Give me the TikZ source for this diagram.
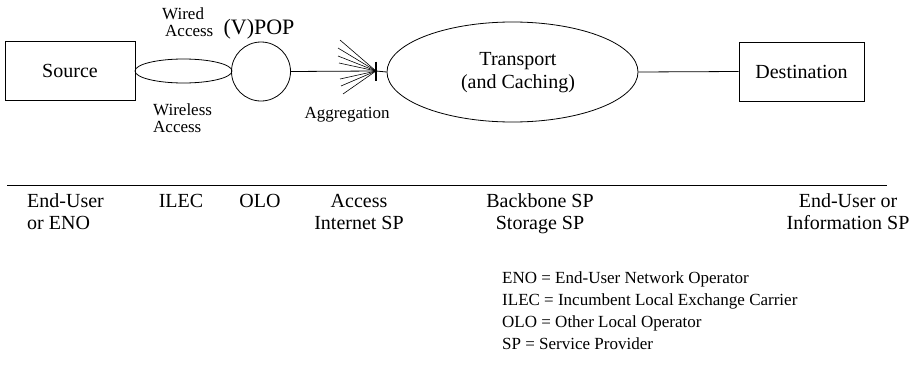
\documentclass[tikz,border=0pt]{standalone}
\usepackage{fontspec}
\setmainfont{Liberation Serif}
\usetikzlibrary{shapes.geometric}
\tikzset{
  thinline/.style={line width=0.8pt},
  stage/.style={draw, line width=0.8pt, rectangle, inner sep=0pt, font=\fontsize{20}{23}\selectfont},
  lbl/.style={inner sep=0pt, anchor=base, font=\fontsize{17}{20}\selectfont},
  role/.style={inner sep=0pt, anchor=base, font=\fontsize{20}{23}\selectfont},
  abbrev/.style={inner sep=0pt, anchor=base west, font=\fontsize{17}{20}\selectfont},
}
\begin{document}
\begin{tikzpicture}[x=1pt, y=-1pt]
\useasboundingbox (0,0) rectangle (917,364);

% end points and the access network
\node[stage, minimum width=130, minimum height=59] (src) at (70,70.5) {Source};
\node[draw, thinline, ellipse, minimum width=97, minimum height=24, inner sep=0pt] (link) at (183.5,71) {};
\node[draw, thinline, circle, minimum size=59, inner sep=0pt] (pop) at (261,71.5) {};
\node[draw, thinline, ellipse, minimum width=251, minimum height=100, inner sep=0pt] (transport) at (512.5,72) {};
\node[stage, minimum width=125, minimum height=59] (dst) at (801.5,71.5) {Destination};
\node[font=\fontsize{20}{23}\selectfont, align=center, inner sep=0pt] (transportlabel) at (518,73) {Transport\\(and Caching)};

% aggregation point with its fan of incoming lines
\coordinate (agg) at (376,71);
\coordinate (aggtop) at (376,61.5);
\coordinate (aggbot) at (376,80.5);
\draw[thinline] (pop.east) -- (agg);
\draw[thinline] (agg) -- (transport.west);
\draw[thinline] (transport.east) -- (dst.west);
\foreach \fx/\fy [count=\i] in {340/40, 338/48, 338/56, 339/63, 340/79, 341/86, 343/94} {
  \coordinate (fan\i) at (\fx,\fy);
  \draw[line width=0.6pt] (fan\i) -- (agg);
}
\draw[line width=2.6pt] (aggtop) -- (aggbot);

% labels of the access network
\node[lbl, anchor=base west] (wired) at (162,19) {Wired};
\node[lbl, anchor=base west] (wiredacc) at (165,36) {Access};
\node[inner sep=0pt, anchor=base, font=\fontsize{22}{25}\selectfont] (vpop) at (259,34) {(V)POP};
\node[lbl, anchor=base west] (wireless) at (153,115) {Wireless};
\node[lbl, anchor=base west] (wirelessacc) at (153,132) {Access};
\node[lbl] (aggregation) at (347,118) {Aggregation};

% rule and the actors below it
\coordinate (ruleL) at (7,185);
\coordinate (ruleR) at (887,185);
\draw[thinline] (ruleL) -- (ruleR);
\node[role, anchor=base west] (r1a) at (27,207) {End-User};
\node[role, anchor=base west] (r1b) at (27,229) {or ENO};
\node[role] (r2) at (181,207) {ILEC};
\node[role] (r3) at (260,207) {OLO};
\node[role] (r4a) at (359,207) {Access};
\node[role] (r4b) at (359,229) {Internet SP};
\node[role] (r5a) at (540,207) {Backbone SP};
\node[role] (r5b) at (540,229) {Storage SP};
\node[role] (r6a) at (848,207) {End-User or};
\node[role] (r6b) at (848,229) {Information SP};

% abbreviations
\node[abbrev] (k1) at (502,283) {ENO = End-User Network Operator};
\node[abbrev] (k2) at (502,305) {ILEC = Incumbent Local Exchange Carrier};
\node[abbrev] (k3) at (502,327) {OLO = Other Local Operator};
\node[abbrev] (k4) at (502,349) {SP = Service Provider};
\end{tikzpicture}
\end{document}
